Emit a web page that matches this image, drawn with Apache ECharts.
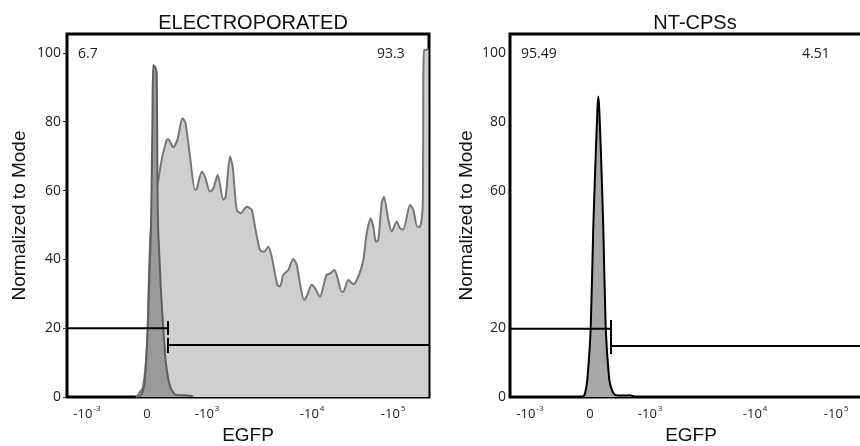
<!DOCTYPE html>
<html>
<head>
<meta charset="utf-8">
<script src="https://cdn.jsdelivr.net/npm/echarts@6/dist/echarts.min.js"></script>
<style>
html,body{margin:0;padding:0;background:#fff;}
#main{width:860px;height:446px;}
</style>
</head>
<body>
<div id="main"></div>
<script>
// ---- data (x in axis units 0..100 across the plot box, y = % of mode) ----
const titles = ['ELECTROPORATED', 'NT-CPSs'];
const xTickPos = [5.5, 22.1, 38.7, 67.7, 90.1];
const xTickBase = ['-10', '0', '-10', '-10', '-10'];
const xTickExp = ['-3', '', '3', '4', '5'];
const yTicksLeft = [0, 20, 40, 60, 80, 100];
const yTicksRight = [0, 20, 60, 80, 100];
const gatePercentLeft = ['6.7', '93.3'];
const gatePercentRight = ['95.49', '4.51'];
const gateX = 27.9;

const electroX = [19.06, 20.99, 22.10, 22.65, 23.20, 24.31, 25.22, 26.16, 27.54, 27.98, 29.36, 30.47, 31.91, 32.73, 33.98, 35.36, 35.83, 37.21, 38.12, 39.50, 40.41, 41.63, 43.18, 43.84, 45.03, 45.77, 46.88, 47.98, 49.64, 51.02, 51.93, 53.31, 54.42, 55.61, 56.55, 58.09, 58.84, 59.75, 61.13, 62.51, 63.45, 64.36, 65.47, 66.21, 67.60, 68.51, 69.89, 70.80, 71.74, 72.85, 73.84, 74.50, 75.88, 76.33, 77.71, 79.09, 80.47, 81.85, 82.79, 83.90, 84.61, 85.36, 86.00, 86.93, 87.57, 88.76, 89.70, 91.08, 91.99, 92.90, 94.75, 95.66, 96.77, 97.51, 98.26, 98.62, 99.86];
const electroY = [0, 3, 15, 35, 50, 58, 63, 69, 74.7, 74.9, 72.6, 74.7, 81, 79.6, 69.9, 60.2, 60.4, 65.5, 64, 59.7, 60.6, 64.5, 57.3, 58.2, 69.9, 66.9, 54.4, 53.4, 55.3, 54.4, 49.5, 42.7, 42.2, 43.7, 40.8, 32.6, 32.1, 35.5, 36.9, 40.1, 38.4, 33.0, 28.2, 29.2, 32.6, 31.6, 29.2, 32.1, 35.5, 36, 36.9, 35.5, 30.6, 30.6, 34, 32.8, 35, 39.8, 47.6, 51.9, 49.5, 45.1, 45.6, 56.3, 58.2, 51.5, 48.1, 51, 49, 48.7, 55.8, 54.4, 49.5, 49.5, 55.3, 100.9, 100.9];

const ctrlLeftX = [19.6, 20.7, 21.5, 22.3, 22.9, 23.2, 23.6, 23.8, 24.3, 24.8, 25.0, 25.2, 26.0, 26.6, 27.3, 28.5, 29.8, 32.6, 34.5, 34.8];
const ctrlLeftY = [0, 1, 5, 19.5, 40, 48.5, 80, 96.5, 96, 94, 60, 48.5, 30, 20, 10, 3, 0.8, 0.5, 0.3, 0];

const ntX = [20.25, 20.72, 21.35, 22.29, 23.01, 23.76, 24.17, 24.39, 24.64, 25.06, 25.77, 26.44, 27.43, 28.18, 29.0, 30.9, 33.1, 34.5];
const ntY = [0, 1, 5, 20, 49.5, 72.8, 84, 87.3, 84, 72.8, 49.5, 20, 5, 2, 0.6, 0.4, 0.5, 0];

const gateLowLeft = [20, 18.0, 22.1];   // line y, tick from, tick to
const gateHighLeft = [15.1, 12.8, 17.2];
const gateLowRight = [19.8, 17.5, 22.4];
const gateHighRight = [14.8, 12.5, 17.5];

// ---- helpers ----
const pairs = (xs, ys) => xs.map((x, i) => [x, ys[i]]);
const xLabel = (v) => {
  let best = 0;
  xTickPos.forEach((p, i) => { if (Math.abs(p - v) < Math.abs(xTickPos[best] - v)) best = i; });
  return xTickExp[best] ? '{b|' + xTickBase[best] + '}{s|' + xTickExp[best] + '}' : '{b|' + xTickBase[best] + '}';
};
const tickFont = 'Open Sans';
const bigFont = 'Liberation Sans';

function xAxisCfg(gi) {
  return {
    type: 'value', gridIndex: gi, min: 0, max: 100,
    name: 'EGFP', nameLocation: 'middle', nameGap: 29,
    nameTextStyle: { fontFamily: bigFont, fontSize: 19, color: '#111' },
    axisLine: { show: false }, axisTick: { show: false }, splitLine: { show: false },
    axisLabel: {
      customValues: xTickPos, margin: 8, formatter: xLabel,
      rich: {
        b: { fontFamily: tickFont, fontSize: 13, color: '#222', lineHeight: 16, verticalAlign: 'bottom' },
        s: { fontFamily: tickFont, fontSize: 8, color: '#222', lineHeight: 16, verticalAlign: 'top', padding: [0, 0, 6, 1] }
      }
    }
  };
}
function yAxisCfg(gi, ticks, gap, showTick) {
  return {
    type: 'value', gridIndex: gi, min: 0, max: 105.5,
    name: 'Normalized to Mode', nameLocation: 'middle', nameGap: gap,
    nameTextStyle: { fontFamily: bigFont, fontSize: 19, color: '#111' },
    axisLine: { show: false }, splitLine: { show: false },
    axisTick: { show: showTick, customValues: ticks, length: 4, lineStyle: { color: '#333', width: 1 } },
    axisLabel: { customValues: ticks, margin: showTick ? 6 : 4, fontFamily: tickFont, fontSize: 14, color: '#222' }
  };
}
function gateSeries(xi, low, high) {
  const st = { color: '#000', width: 2 };
  const base = { type: 'line', xAxisIndex: xi, yAxisIndex: xi, symbol: 'none', lineStyle: st, silent: true, z: 5, animation: false };
  return [
    Object.assign({}, base, { data: [[0, low[0]], [gateX, low[0]]] }),
    Object.assign({}, base, { data: [[gateX, low[1]], [gateX, low[2]]] }),
    Object.assign({}, base, { data: [[gateX, high[0]], [100, high[0]]] }),
    Object.assign({}, base, { data: [[gateX, high[1]], [gateX, high[2]]] })
  ];
}

const chart = echarts.init(document.getElementById('main'), null, { renderer: 'canvas' });
chart.setOption({
  animation: false,
  backgroundColor: '#fff',
  title: [
    { text: titles[0], left: 248, top: 8, textAlign: 'center', textStyle: { fontFamily: bigFont, fontSize: 20, fontWeight: 'normal', color: '#111' } },
    { text: titles[1], left: 690, top: 8, textAlign: 'center', textStyle: { fontFamily: bigFont, fontSize: 20, fontWeight: 'normal', color: '#111' } }
  ],
  grid: [
    { left: 67, top: 34, width: 362, height: 363, show: true, borderColor: '#000', borderWidth: 3, backgroundColor: 'transparent', outerBoundsMode: 'none', containLabel: false },
    { left: 510, top: 34, width: 362, height: 363, show: true, borderColor: '#000', borderWidth: 3, backgroundColor: 'transparent', outerBoundsMode: 'none', containLabel: false }
  ],
  xAxis: [xAxisCfg(0), xAxisCfg(1)],
  yAxis: [yAxisCfg(0, yTicksLeft, 38, true), yAxisCfg(1, yTicksRight, 34, false)],
  graphic: [
    { type: 'text', left: 78, top: 47, style: { text: gatePercentLeft[0], font: '14px "Open Sans"', fill: '#222' } },
    { type: 'text', left: 377, top: 47, style: { text: gatePercentLeft[1], font: '14px "Open Sans"', fill: '#222' } },
    { type: 'text', left: 521, top: 47, style: { text: gatePercentRight[0], font: '14px "Open Sans"', fill: '#222' } },
    { type: 'text', left: 802, top: 47, style: { text: gatePercentRight[1], font: '14px "Open Sans"', fill: '#222' } }
  ],
  series: [
    { type: 'line', xAxisIndex: 0, yAxisIndex: 0, data: pairs(electroX, electroY), symbol: 'none', smooth: 0.25,
      lineStyle: { color: '#777', width: 2 }, areaStyle: { color: '#cfcfcf', opacity: 1 }, z: 2 },
    { type: 'line', xAxisIndex: 0, yAxisIndex: 0, data: pairs(ctrlLeftX, ctrlLeftY), symbol: 'none', smooth: 0.2,
      lineStyle: { color: '#5e5e5e', width: 2 }, areaStyle: { color: '#9a9a9a', opacity: 1 }, z: 3 },
    { type: 'line', xAxisIndex: 1, yAxisIndex: 1, data: pairs(ntX, ntY), symbol: 'none', smooth: 0.2,
      lineStyle: { color: '#000', width: 2 }, areaStyle: { color: '#a8a8a8', opacity: 1 }, z: 3 }
  ].concat(gateSeries(0, gateLowLeft, gateHighLeft), gateSeries(1, gateLowRight, gateHighRight))
});
</script>
</body>
</html>
